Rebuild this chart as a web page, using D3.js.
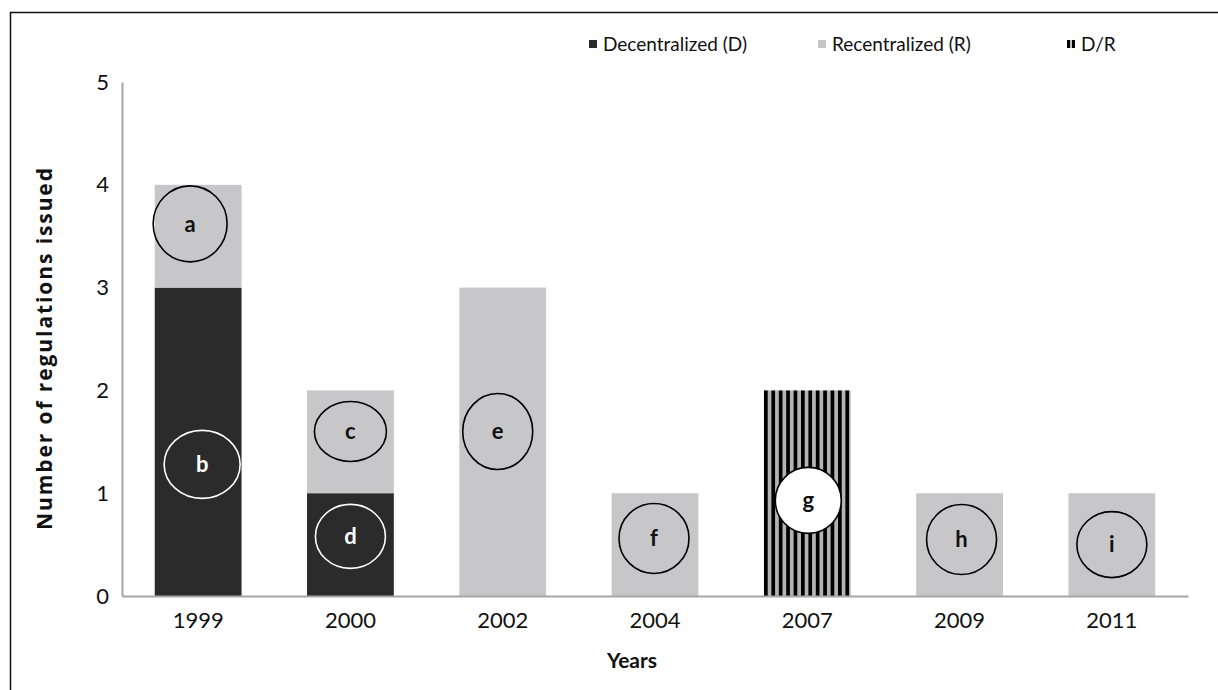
<!DOCTYPE html>
<html><head><meta charset="utf-8">
<script src="https://cdn.jsdelivr.net/npm/d3@7"></script>
<style>body{margin:0;background:#fff}svg{display:block}text{font-family:Lato,"Open Sans",sans-serif}</style>
</head><body>
<svg id="c" width="1218" height="690"></svg>
<script>
const years = ["1999","2000","2002","2004","2007","2009","2011"];
const decentralized = [3,1,0,0,0,0,0];
const recentralized = [1,1,3,1,0,1,1];
const mixedDR = [0,0,0,0,2,0,0];
const yTicks = [0,1,2,3,4,5];
const noteLabels = ["a","b","c","d","e","f","g","h","i"];
const noteYears = ["1999","1999","2000","2000","2002","2004","2007","2009","2011"];
const noteValues = [3.62,1.28,1.6,0.58,1.6,0.56,0.93,0.55,0.5];
const noteKinds = ["R","D","R","D","R","R","DR","R","R"];

// styles / geometry (not data)
const noteGeom = [[-8,37,38],[4,38,34],[0,36,30],[0,35,32],[-5,35,38],[-1,35,35],[1,33,33],[2,35,35],[0,35,33]];
const DARK="#2b2b2b", LIGHT="#c7c7c9", AXIS="#a6a6a6";

const svg=d3.select("#c");
// frame
svg.append("rect").attr("x",10.5).attr("y",12.5).attr("width",1230).attr("height",700)
  .attr("fill","none").attr("stroke","#111").attr("stroke-width",1.5);

const defs=svg.append("defs");
const pat=defs.append("pattern").attr("id","stripes").attr("patternUnits","userSpaceOnUse")
  .attr("width",7.4).attr("height",10).attr("x",764);
pat.append("rect").attr("width",7.4).attr("height",10).attr("fill","#b4b4b4");
pat.append("rect").attr("width",3.7).attr("height",10).attr("fill","#000");
const pat2=defs.append("pattern").attr("id","stripesL").attr("patternUnits","userSpaceOnUse")
  .attr("width",5).attr("height",10).attr("x",1067);
pat2.append("rect").attr("width",5).attr("height",10).attr("fill","#c0c0c0");
pat2.append("rect").attr("width",3).attr("height",10).attr("fill","#000");

const x=d3.scaleBand().domain(years).range([122,1188]).paddingInner(0.43).paddingOuter(0.215);
const y=d3.scaleLinear().domain([0,5]).range([596,82]);

// y axis
const ya=svg.append("g").attr("transform","translate(122,0)")
  .call(d3.axisLeft(y).tickValues(yTicks).tickSize(0).tickPadding(13).tickFormat(d3.format("d")));
ya.select(".domain").attr("stroke",AXIS).attr("stroke-width",2);
ya.selectAll("text").attr("font-size",22).attr("fill","#111");

// bars
const stackD = years.map((yr,i)=>({yr,y0:0,y1:decentralized[i]}));
const stackR = years.map((yr,i)=>({yr,y0:decentralized[i],y1:decentralized[i]+recentralized[i]}));
const stackM = years.map((yr,i)=>({yr,y0:decentralized[i]+recentralized[i],y1:decentralized[i]+recentralized[i]+mixedDR[i]}));
function bars(data,fill){
  svg.append("g").selectAll("rect").data(data.filter(d=>d.y1>d.y0)).join("rect")
   .attr("x",d=>x(d.yr)).attr("width",x.bandwidth())
   .attr("y",d=>y(d.y1)).attr("height",d=>y(d.y0)-y(d.y1)).attr("fill",fill);
}
bars(stackD,DARK); bars(stackR,LIGHT); bars(stackM,"url(#stripes)");

// x axis
const xa=svg.append("g").attr("transform","translate(0,596)")
  .call(d3.axisBottom(x).tickSize(0).tickPadding(16));
xa.select(".domain").attr("stroke",AXIS).attr("stroke-width",2);
xa.selectAll("text").attr("font-size",22).attr("fill","#111");

// notes
const ng=svg.append("g");
noteLabels.forEach((lab,i)=>{
  const cx=x(noteYears[i])+x.bandwidth()/2+noteGeom[i][0], cy=y(noteValues[i]);
  const k=noteKinds[i];
  ng.append("ellipse").attr("cx",cx).attr("cy",cy).attr("rx",noteGeom[i][1]).attr("ry",noteGeom[i][2])
    .attr("fill",k==="DR"?"#fff":"none").attr("stroke",k==="D"?"#fff":"#000").attr("stroke-width",1.6);
  ng.append("text").attr("x",cx).attr("y",cy).attr("dy","0.35em").attr("text-anchor","middle")
    .attr("font-size",22).attr("font-weight","bold").attr("fill",k==="D"?"#fff":"#111").text(lab);
});

// axis titles
svg.append("text").attr("transform","translate(52,349) rotate(-90)").attr("text-anchor","middle")
  .style("font-family","'Open Sans',sans-serif")
  .attr("font-size",21).attr("font-weight","bold").attr("fill","#111")
  .attr("textLength",362).attr("lengthAdjust","spacing")
  .text("Number of regulations issued");
svg.append("text").attr("x",632).attr("y",668).attr("text-anchor","middle")
  .attr("font-size",21).attr("font-weight","bold").attr("fill","#111").text("Years");

// legend
const legItems=[["Decentralized (D)",DARK,589],["Recentralized (R)",LIGHT,818],["D/R","url(#stripesL)",1067]];
const lg=svg.append("g");
legItems.forEach(([t,f,lx])=>{
  lg.append("rect").attr("x",lx).attr("y",40).attr("width",8).attr("height",8).attr("fill",f);
  lg.append("text").attr("x",lx+14).attr("y",44).attr("dy","0.35em").attr("font-size",19).attr("fill","#111").text(t);
});
</script>
</body></html>
